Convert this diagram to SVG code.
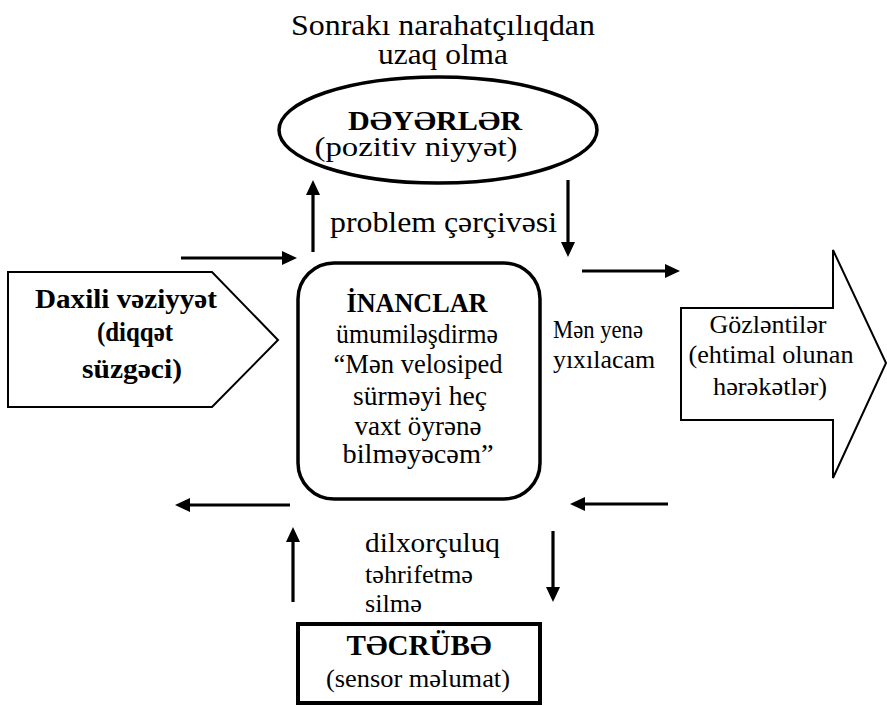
<svg xmlns="http://www.w3.org/2000/svg" width="887" height="706" viewBox="0 0 887 706">
  <style>
    text { font-family: "Liberation Serif", "DejaVu Serif", serif; fill: #000; }
    .b { font-weight: bold; }
    .c { text-anchor: middle; }
    .shape { fill: #fff; stroke: #000; }
    .arrow { stroke: #000; stroke-width: 3.2; fill: none; marker-end: url(#head); }
  </style>
  <defs>
    <marker id="head" markerWidth="15" markerHeight="14" refX="3" refY="7" orient="auto" markerUnits="userSpaceOnUse">
      <path d="M0,0 L15,7 L0,14 z" fill="#000"/>
    </marker>
  </defs>
  <rect width="887" height="706" fill="#fff"/>

  <!-- heading above the values node -->
  <g id="goal">
    <text x="443" y="35" class="c" font-size="30" textLength="304" lengthAdjust="spacingAndGlyphs">Sonrakı narahatçılıqdan</text>
    <text x="443" y="64" class="c" font-size="30" textLength="130" lengthAdjust="spacingAndGlyphs">uzaq olma</text>
  </g>

  <!-- values -->
  <g id="values">
    <ellipse cx="438" cy="130" rx="159" ry="53" class="shape" stroke-width="3.5"/>
    <text x="435" y="130" class="c b" font-size="27" textLength="174" lengthAdjust="spacingAndGlyphs">DƏYƏRLƏR</text>
    <text x="416" y="156" class="c" font-size="27" textLength="203" lengthAdjust="spacingAndGlyphs">(pozitiv niyyət)</text>
  </g>

  <!-- internal state -->
  <g id="state">
    <polygon points="8,272 212,272 278,340 212,407 8,407" class="shape" stroke-width="2"/>
    <text x="126" y="308" class="c b" font-size="28" textLength="182" lengthAdjust="spacingAndGlyphs">Daxili vəziyyət</text>
    <text x="135" y="341" class="c b" font-size="28" textLength="76" lengthAdjust="spacingAndGlyphs">(diqqət</text>
    <text x="132" y="378" class="c b" font-size="28" textLength="100" lengthAdjust="spacingAndGlyphs">süzgəci)</text>
  </g>

  <!-- beliefs -->
  <g id="beliefs">
    <rect x="298" y="263" width="242" height="236" rx="36" ry="36" class="shape" stroke-width="3.5"/>
    <text x="417" y="312" class="c b" font-size="28" textLength="141" lengthAdjust="spacingAndGlyphs">İNANCLAR</text>
    <text x="417" y="343" class="c" font-size="27" textLength="162" lengthAdjust="spacingAndGlyphs">ümumiləşdirmə</text>
    <text x="418" y="373" class="c" font-size="27" textLength="169" lengthAdjust="spacingAndGlyphs">“Mən velosiped</text>
    <text x="420" y="405" class="c" font-size="27" textLength="134" lengthAdjust="spacingAndGlyphs">sürməyi heç</text>
    <text x="418" y="435" class="c" font-size="27" textLength="127" lengthAdjust="spacingAndGlyphs">vaxt öyrənə</text>
    <text x="418" y="463" class="c" font-size="27" textLength="151" lengthAdjust="spacingAndGlyphs">bilməyəcəm”</text>
  </g>

  <!-- expectation -->
  <g id="expectation">
    <polygon points="681,308 833,308 833,250 886,363 833,478 833,420 681,420" class="shape" stroke-width="2"/>
    <text x="768" y="333" class="c" font-size="26" textLength="117" lengthAdjust="spacingAndGlyphs">Gözləntilər</text>
    <text x="771" y="363" class="c" font-size="26" textLength="165" lengthAdjust="spacingAndGlyphs">(ehtimal olunan</text>
    <text x="770" y="395" class="c" font-size="26" textLength="114" lengthAdjust="spacingAndGlyphs">hərəkətlər)</text>
  </g>

  <!-- experience -->
  <g id="experience">
    <rect x="298" y="624" width="242" height="79" class="shape" stroke-width="4"/>
    <text x="419" y="655" class="c b" font-size="29" textLength="145" lengthAdjust="spacingAndGlyphs">TƏCRÜBƏ</text>
    <text x="418" y="687" class="c" font-size="26" textLength="184" lengthAdjust="spacingAndGlyphs">(sensor məlumat)</text>
  </g>

  <!-- connector labels -->
  <g id="labels">
    <text x="330" y="232" font-size="30" textLength="227" lengthAdjust="spacingAndGlyphs">problem çərçivəsi</text>
    <text x="553" y="338" font-size="26" textLength="90" lengthAdjust="spacingAndGlyphs">Mən yenə</text>
    <text x="553" y="368" font-size="26" textLength="102" lengthAdjust="spacingAndGlyphs">yıxılacam</text>
    <text x="365" y="552" font-size="27" textLength="135" lengthAdjust="spacingAndGlyphs">dilxorçuluq</text>
    <text x="365" y="583" font-size="26" textLength="108" lengthAdjust="spacingAndGlyphs">təhrifetmə</text>
    <text x="365" y="612" font-size="26" textLength="57" lengthAdjust="spacingAndGlyphs">silmə</text>
  </g>

  <!-- connectors -->
  <g id="connectors">
    <line x1="181" y1="258" x2="285" y2="258" class="arrow"/>
    <line x1="313" y1="252" x2="313" y2="192" class="arrow"/>
    <line x1="568" y1="180" x2="568" y2="245" class="arrow"/>
    <line x1="582" y1="271" x2="668" y2="271" class="arrow"/>
    <line x1="290" y1="505" x2="187" y2="505" class="arrow"/>
    <line x1="668" y1="504" x2="582" y2="504" class="arrow"/>
    <line x1="293" y1="602" x2="293" y2="539" class="arrow"/>
    <line x1="553" y1="531" x2="553" y2="590" class="arrow"/>
  </g>
</svg>
